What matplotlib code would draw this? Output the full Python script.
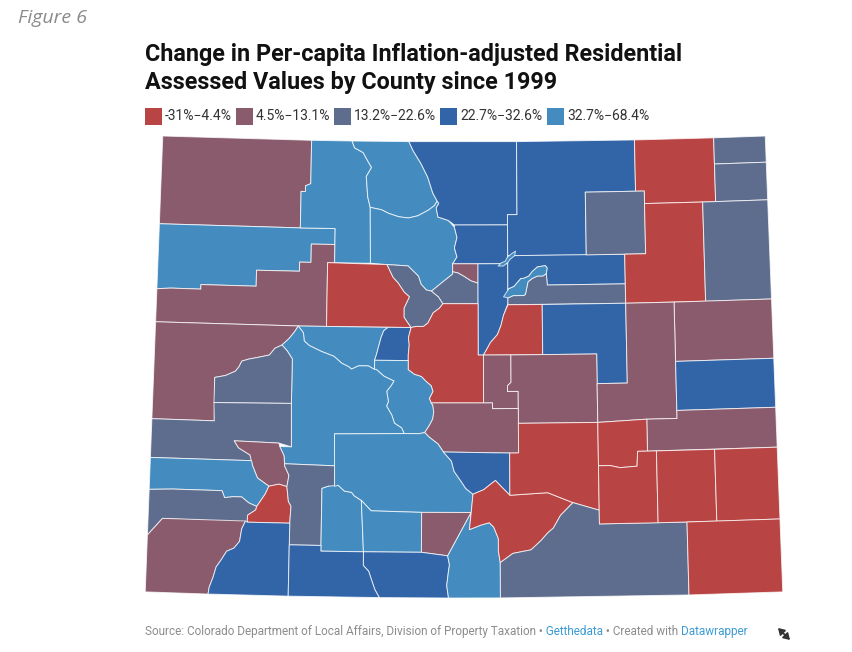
"""
Colorado choropleth: change in per-capita inflation-adjusted residential assessed values by county
since 1999, five classes. County outlines are rough lon/lat traces, drawn through an Albers projection.
"""
import numpy as np
import matplotlib
matplotlib.use("Agg")
import matplotlib.pyplot as plt
from matplotlib.patches import Polygon, Rectangle, FancyArrowPatch
from matplotlib.transforms import Bbox, TransformedBbox

BIN_LABELS = ["-31%\u22124.4%", "4.5%\u221213.1%", "13.2%\u221222.6%", "22.7%\u221232.6%", "32.7%\u221268.4%"]
BIN_COLORS = ["#b94444", "#8a5b6c", "#5e6d8e", "#3265a7", "#448cbf"]

# county outlines, (lon, lat)
MOFFAT = [(-109.05, 41.0), (-107.32, 41.0), (-107.32, 40.62), (-107.38, 40.60), (-107.38, 40.55),
          (-107.43, 40.55), (-107.43, 40.23), (-109.05, 40.23)]
RIO_BLANCO = [(-109.05, 40.23), (-107.43, 40.23), (-107.03, 40.23), (-107.03, 40.09), (-107.30, 40.09),
              (-107.30, 39.93), (-107.43, 39.93), (-107.43, 39.85), (-107.92, 39.85), (-107.92, 39.71),
              (-108.55, 39.71), (-108.55, 39.67), (-108.89, 39.67), (-109.05, 39.66)]
GARFIELD = [(-109.05, 39.66), (-108.89, 39.67), (-108.55, 39.67), (-108.55, 39.71), (-107.92, 39.71),
            (-107.92, 39.85), (-107.43, 39.85), (-107.43, 39.93), (-107.30, 39.93), (-107.30, 40.09),
            (-107.03, 40.09), (-107.03, 39.93), (-107.11, 39.93), (-107.11, 39.37), (-107.43, 39.37),
            (-109.05, 39.37)]
MESA = [(-109.05, 39.37), (-107.43, 39.37), (-107.47, 39.32), (-107.53, 39.26), (-107.61, 39.20),
        (-107.69, 39.17), (-107.75, 39.11), (-107.86, 39.09), (-107.98, 39.07), (-108.06, 39.05),
        (-108.09, 39.0), (-108.13, 38.96), (-108.24, 38.92), (-108.36, 38.90), (-108.35, 38.52),
        (-109.05, 38.52)]
ROUTT = [(-107.32, 41.0), (-106.85, 41.0), (-106.82, 40.94), (-106.72, 40.90), (-106.66, 40.82),
         (-106.62, 40.77), (-106.68, 40.69), (-106.66, 40.51), (-106.63, 40.42), (-106.62, 39.93),
         (-107.03, 39.93), (-107.03, 40.23), (-107.43, 40.23), (-107.43, 40.55), (-107.38, 40.55),
         (-107.38, 40.60), (-107.32, 40.62)]
JACKSON = [(-106.85, 41.0), (-106.19, 41.0), (-106.14, 40.92), (-106.05, 40.81), (-105.97, 40.69),
           (-105.91, 40.55), (-105.86, 40.48), (-105.89, 40.44), (-105.96, 40.40), (-106.08, 40.35),
           (-106.19, 40.33), (-106.30, 40.34), (-106.42, 40.37), (-106.50, 40.40), (-106.63, 40.42),
           (-106.66, 40.51), (-106.68, 40.69), (-106.62, 40.77), (-106.66, 40.82), (-106.72, 40.90),
           (-106.82, 40.94)]
GRAND = [(-106.63, 40.42), (-106.50, 40.40), (-106.42, 40.37), (-106.30, 40.34), (-106.19, 40.33),
         (-106.08, 40.35), (-105.96, 40.40), (-105.89, 40.44), (-105.86, 40.48), (-105.84, 40.46),
         (-105.87, 40.42), (-105.85, 40.34), (-105.73, 40.31), (-105.66, 40.25), (-105.63, 40.16),
         (-105.66, 40.07), (-105.63, 39.99), (-105.68, 39.93), (-105.68, 39.84), (-105.81, 39.76),
         (-105.92, 39.69), (-105.98, 39.70), (-106.04, 39.75), (-106.07, 39.82), (-106.15, 39.88),
         (-106.19, 39.91), (-106.43, 39.92), (-106.62, 39.93)]
EAGLE = [(-107.11, 39.93), (-106.43, 39.92), (-106.36, 39.81), (-106.30, 39.76), (-106.23, 39.68),
         (-106.17, 39.64), (-106.23, 39.54), (-106.23, 39.46), (-106.15, 39.37), (-107.11, 39.37)]
SUMMIT = [(-106.43, 39.92), (-106.19, 39.91), (-106.15, 39.88), (-106.07, 39.82), (-106.04, 39.75),
          (-105.98, 39.70), (-105.92, 39.69), (-105.84, 39.64), (-105.79, 39.58), (-105.83, 39.54),
          (-105.90, 39.50), (-105.96, 39.41), (-106.01, 39.38), (-106.09, 39.38), (-106.15, 39.37),
          (-106.23, 39.46), (-106.23, 39.54), (-106.17, 39.64), (-106.23, 39.68), (-106.30, 39.76),
          (-106.36, 39.81)]
PITKIN = [(-107.43, 39.37), (-106.41, 39.37), (-106.46, 39.34), (-106.49, 39.28), (-106.51, 39.22),
          (-106.54, 39.13), (-106.56, 39.08), (-106.56, 39.0), (-106.63, 39.03), (-106.74, 39.03),
          (-106.82, 39.0), (-106.85, 39.02), (-106.93, 39.05), (-107.02, 39.11), (-107.16, 39.15),
          (-107.30, 39.20), (-107.36, 39.24), (-107.37, 39.31)]
LAKE = [(-106.41, 39.37), (-106.15, 39.37), (-106.18, 39.28), (-106.17, 39.22), (-106.18, 39.13),
        (-106.18, 39.08), (-106.56, 39.08), (-106.54, 39.13), (-106.51, 39.22), (-106.49, 39.28),
        (-106.46, 39.34)]
LARIMER = [(-106.19, 41.0), (-104.94, 41.0), (-104.94, 40.36), (-105.05, 40.36), (-105.05, 40.27),
           (-105.66, 40.27), (-105.73, 40.31), (-105.85, 40.34), (-105.87, 40.42), (-105.84, 40.46),
           (-105.86, 40.48), (-105.91, 40.55), (-105.97, 40.69), (-106.05, 40.81), (-106.14, 40.92)]
BOULDER = [(-105.66, 40.27), (-105.05, 40.27), (-105.05, 39.93), (-105.39, 39.93), (-105.68, 39.93),
           (-105.63, 39.99), (-105.66, 40.07), (-105.63, 40.16), (-105.66, 40.25)]
GILPIN = [(-105.68, 39.93), (-105.39, 39.93), (-105.39, 39.76), (-105.47, 39.78), (-105.55, 39.82),
          (-105.62, 39.85), (-105.68, 39.86)]
CLEAR_CREEK = [(-105.68, 39.86), (-105.62, 39.85), (-105.55, 39.82), (-105.47, 39.78), (-105.39, 39.76),
               (-105.39, 39.58), (-105.79, 39.58), (-105.84, 39.64), (-105.92, 39.69), (-105.81, 39.76),
               (-105.68, 39.84)]
JEFFERSON = [(-105.39, 39.93), (-105.05, 39.93), (-105.05, 39.58), (-105.10, 39.48), (-105.13, 39.39),
             (-105.17, 39.31), (-105.25, 39.24), (-105.30, 39.17), (-105.33, 39.13), (-105.39, 39.13)]
WELD = [(-104.94, 41.0), (-103.57, 41.0), (-103.57, 40.55), (-104.15, 40.55), (-104.15, 40.0),
        (-105.05, 40.0), (-105.05, 40.36), (-104.94, 40.36)]
ADAMS = [(-105.05, 40.0), (-103.71, 40.0), (-103.71, 39.74), (-104.60, 39.74), (-104.61, 39.84),
         (-104.60, 39.89), (-104.62, 39.91), (-104.71, 39.90), (-104.77, 39.86), (-104.81, 39.82),
         (-104.87, 39.80), (-104.90, 39.80), (-104.98, 39.73), (-105.04, 39.71), (-105.05, 39.70)]
ARAPAHOE = [(-104.60, 39.74), (-103.71, 39.74), (-103.71, 39.57), (-105.05, 39.57), (-105.05, 39.63),
            (-104.99, 39.65), (-104.87, 39.65), (-104.85, 39.66), (-104.82, 39.77), (-104.77, 39.80),
            (-104.71, 39.82), (-104.65, 39.82), (-104.61, 39.84)]
DOUGLAS = [(-105.05, 39.57), (-104.66, 39.57), (-104.66, 39.13), (-105.33, 39.13), (-105.30, 39.17),
           (-105.25, 39.24), (-105.17, 39.31), (-105.13, 39.39), (-105.10, 39.48)]
ELBERT = [(-104.66, 39.57), (-103.71, 39.57), (-103.71, 38.87), (-104.05, 38.87), (-104.05, 39.13),
          (-104.66, 39.13)]
PARK = [(-106.15, 39.37), (-106.09, 39.38), (-106.01, 39.38), (-105.96, 39.41), (-105.90, 39.50),
        (-105.83, 39.54), (-105.79, 39.58), (-105.39, 39.58), (-105.39, 39.13), (-105.33, 39.13),
        (-105.33, 38.71), (-105.92, 38.71), (-105.94, 38.75), (-105.90, 38.81), (-105.92, 38.86),
        (-105.98, 38.90), (-106.03, 38.94), (-106.11, 38.96), (-106.18, 39.0), (-106.18, 39.08),
        (-106.18, 39.13), (-106.17, 39.22), (-106.18, 39.28)]
TELLER = [(-105.33, 39.13), (-105.02, 39.13), (-105.02, 38.89), (-105.06, 38.86), (-105.06, 38.81),
          (-104.94, 38.81), (-104.94, 38.66), (-105.23, 38.66), (-105.23, 38.71), (-105.33, 38.71)]
EL_PASO = [(-105.02, 39.13), (-104.05, 39.13), (-104.05, 38.53), (-104.94, 38.53), (-104.94, 38.81),
           (-105.06, 38.81), (-105.06, 38.86), (-105.02, 38.89)]
CHAFFEE = [(-106.56, 39.08), (-106.18, 39.08), (-106.18, 39.0), (-106.11, 38.96), (-106.03, 38.94),
           (-105.98, 38.90), (-105.92, 38.86), (-105.90, 38.81), (-105.94, 38.75), (-105.92, 38.71),
           (-105.90, 38.69), (-105.89, 38.63), (-105.90, 38.57), (-105.94, 38.51), (-105.99, 38.45),
           (-106.05, 38.44), (-106.22, 38.44), (-106.25, 38.49), (-106.33, 38.53), (-106.36, 38.60),
           (-106.42, 38.68), (-106.40, 38.72), (-106.42, 38.81), (-106.37, 38.86), (-106.34, 38.90),
           (-106.45, 38.94), (-106.54, 39.0), (-106.56, 39.0)]
FREMONT = [(-105.92, 38.71), (-105.33, 38.71), (-105.23, 38.71), (-105.23, 38.66), (-104.94, 38.66),
           (-104.94, 38.53), (-104.94, 38.27), (-105.04, 38.27), (-105.78, 38.28), (-105.84, 38.35),
           (-105.94, 38.41), (-105.99, 38.45), (-105.94, 38.51), (-105.90, 38.57), (-105.89, 38.63),
           (-105.90, 38.69)]
GUNNISON = [(-107.43, 39.37), (-107.37, 39.31), (-107.36, 39.24), (-107.30, 39.20), (-107.16, 39.15),
            (-107.02, 39.11), (-106.93, 39.05), (-106.85, 39.02), (-106.82, 39.0), (-106.74, 39.03),
            (-106.63, 39.03), (-106.56, 39.0), (-106.54, 39.0), (-106.45, 38.94), (-106.34, 38.90),
            (-106.37, 38.86), (-106.42, 38.81), (-106.40, 38.72), (-106.42, 38.68), (-106.36, 38.60),
            (-106.33, 38.53), (-106.25, 38.49), (-106.22, 38.44), (-107.0, 38.43), (-106.99, 38.15),
            (-107.55, 38.16), (-107.56, 38.23), (-107.61, 38.31), (-107.48, 38.31), (-107.49, 38.69),
            (-107.49, 39.08), (-107.55, 39.15), (-107.61, 39.20), (-107.53, 39.26), (-107.47, 39.32)]
DELTA = [(-108.09, 39.0), (-108.06, 39.05), (-107.98, 39.07), (-107.86, 39.09), (-107.75, 39.11),
         (-107.69, 39.17), (-107.61, 39.20), (-107.55, 39.15), (-107.49, 39.08), (-107.49, 38.69),
         (-108.36, 38.68), (-108.36, 38.90), (-108.24, 38.92), (-108.13, 38.96)]
MONTROSE = [(-109.05, 38.52), (-108.35, 38.52), (-108.36, 38.68), (-107.49, 38.69), (-107.48, 38.31),
            (-107.62, 38.34), (-108.12, 38.35), (-108.07, 38.29), (-107.94, 38.23), (-107.92, 38.18),
            (-109.05, 38.18)]
OURAY = [(-108.12, 38.35), (-107.62, 38.34), (-107.61, 38.31), (-107.56, 38.23), (-107.55, 38.14),
         (-107.50, 38.06), (-107.52, 37.96), (-107.61, 37.98), (-107.72, 37.96), (-107.85, 38.03),
         (-107.91, 38.14), (-107.94, 38.23), (-108.07, 38.29)]
SAN_MIGUEL = [(-109.05, 38.18), (-107.92, 38.18), (-107.91, 38.14), (-107.85, 38.03), (-107.72, 37.96),
              (-107.76, 37.89), (-107.85, 37.78), (-107.94, 37.81), (-108.02, 37.86), (-108.11, 37.86),
              (-108.21, 37.85), (-108.24, 37.91), (-108.79, 37.91), (-109.05, 37.90)]
DOLORES = [(-109.05, 37.90), (-108.79, 37.91), (-108.24, 37.91), (-108.21, 37.85), (-108.11, 37.86),
           (-108.02, 37.86), (-107.94, 37.81), (-107.85, 37.78), (-107.86, 37.75), (-107.95, 37.70),
           (-107.95, 37.64), (-108.89, 37.65), (-109.05, 37.50)]
SAN_JUAN = [(-107.76, 37.89), (-107.72, 37.96), (-107.61, 37.98), (-107.52, 37.96), (-107.50, 37.83),
            (-107.47, 37.79), (-107.48, 37.64), (-107.95, 37.64), (-107.95, 37.70), (-107.86, 37.75),
            (-107.85, 37.78)]
HINSDALE = [(-107.55, 38.16), (-106.99, 38.15), (-106.99, 37.97), (-107.06, 37.97), (-107.13, 37.95),
            (-107.13, 37.45), (-107.48, 37.45), (-107.48, 37.64), (-107.47, 37.79), (-107.50, 37.83),
            (-107.52, 37.96), (-107.50, 38.06), (-107.55, 38.14)]
MINERAL = [(-107.13, 37.95), (-107.06, 37.97), (-106.95, 37.98), (-106.88, 37.93), (-106.80, 37.92),
           (-106.77, 37.89), (-106.69, 37.85), (-106.66, 37.40), (-107.13, 37.40)]
SAGUACHE = [(-107.0, 38.43), (-106.22, 38.44), (-106.05, 38.44), (-105.99, 38.45), (-105.94, 38.41),
            (-105.84, 38.35), (-105.78, 38.28), (-105.69, 38.20), (-105.66, 38.11), (-105.58, 38.02),
            (-105.53, 37.96), (-105.45, 37.91), (-105.47, 37.75), (-106.02, 37.75), (-106.58, 37.76),
            (-106.69, 37.85), (-106.77, 37.89), (-106.80, 37.92), (-106.88, 37.93), (-106.95, 37.98),
            (-106.99, 37.97)]
RIO_GRANDE = [(-106.69, 37.85), (-106.58, 37.76), (-106.02, 37.75), (-106.02, 37.40), (-106.66, 37.40)]
ALAMOSA = [(-106.02, 37.75), (-105.47, 37.75), (-105.73, 37.37), (-106.02, 37.40)]
CONEJOS = [(-106.66, 37.40), (-106.02, 37.40), (-105.73, 37.37), (-105.71, 37.29), (-105.72, 37.24),
           (-105.74, 37.11), (-105.72, 37.0), (-106.48, 37.0), (-106.53, 37.07), (-106.57, 37.16),
           (-106.60, 37.23), (-106.66, 37.28)]
COSTILLA = [(-105.73, 37.37), (-105.47, 37.75), (-105.49, 37.60), (-105.36, 37.64), (-105.27, 37.66),
            (-105.22, 37.62), (-105.17, 37.52), (-105.17, 37.41), (-105.15, 37.31), (-105.15, 37.0),
            (-105.72, 37.0), (-105.74, 37.11), (-105.72, 37.24), (-105.71, 37.29)]
CUSTER = [(-105.78, 38.28), (-105.04, 38.27), (-105.04, 37.90), (-105.14, 37.98), (-105.20, 38.03),
          (-105.25, 38.0), (-105.33, 37.95), (-105.45, 37.91), (-105.53, 37.96), (-105.58, 38.02),
          (-105.66, 38.11), (-105.69, 38.20)]
HUERFANO = [(-105.45, 37.91), (-105.33, 37.95), (-105.25, 38.0), (-105.20, 38.03), (-105.14, 37.98),
            (-105.04, 37.90), (-104.62, 37.92), (-104.34, 37.83), (-104.48, 37.72), (-104.56, 37.61),
            (-104.62, 37.57), (-104.70, 37.50), (-104.81, 37.42), (-105.01, 37.39), (-105.15, 37.31),
            (-105.17, 37.41), (-105.17, 37.52), (-105.22, 37.62), (-105.27, 37.66), (-105.36, 37.64),
            (-105.49, 37.60), (-105.47, 37.75)]
PUEBLO = [(-104.94, 38.53), (-104.05, 38.53), (-104.05, 37.76), (-104.34, 37.83), (-104.62, 37.92),
          (-105.04, 37.90), (-105.04, 38.27), (-104.94, 38.27)]
LAS_ANIMAS = [(-105.15, 37.0), (-105.15, 37.31), (-105.01, 37.39), (-104.81, 37.42), (-104.70, 37.50),
              (-104.62, 37.57), (-104.56, 37.61), (-104.48, 37.72), (-104.34, 37.83), (-104.05, 37.76),
              (-104.05, 37.64), (-103.08, 37.64), (-103.08, 37.0)]
MONTEZUMA = [(-109.05, 37.50), (-108.89, 37.65), (-107.97, 37.65), (-108.01, 37.58), (-108.03, 37.47),
             (-108.09, 37.41), (-108.17, 37.38), (-108.23, 37.30), (-108.28, 37.24), (-108.31, 37.15),
             (-108.35, 37.06), (-108.36, 37.0), (-109.05, 37.0)]
LA_PLATA = [(-107.97, 37.65), (-107.95, 37.64), (-107.48, 37.64), (-107.48, 37.45), (-107.48, 37.0),
            (-108.36, 37.0), (-108.35, 37.06), (-108.31, 37.15), (-108.28, 37.24), (-108.23, 37.30),
            (-108.17, 37.38), (-108.09, 37.41), (-108.03, 37.47), (-108.01, 37.58)]
ARCHULETA = [(-107.48, 37.45), (-107.13, 37.45), (-107.13, 37.40), (-106.66, 37.40), (-106.66, 37.28),
             (-106.60, 37.23), (-106.57, 37.16), (-106.53, 37.07), (-106.48, 37.0), (-107.48, 37.0)]
LOGAN = [(-103.57, 41.0), (-102.65, 41.0), (-102.65, 40.44), (-103.47, 40.44), (-103.47, 40.55),
         (-103.57, 40.55)]
SEDGWICK = [(-102.65, 41.0), (-102.05, 41.0), (-102.05, 40.77), (-102.65, 40.77)]
PHILLIPS = [(-102.65, 40.77), (-102.05, 40.77), (-102.05, 40.44), (-102.65, 40.44)]
MORGAN = [(-104.15, 40.55), (-103.47, 40.55), (-103.47, 40.0), (-104.15, 40.0)]
WASHINGTON = [(-103.47, 40.44), (-102.80, 40.44), (-102.80, 39.57), (-103.71, 39.57), (-103.71, 40.0),
              (-103.47, 40.0)]
YUMA = [(-102.80, 40.44), (-102.05, 40.44), (-102.05, 39.57), (-102.80, 39.57)]
KIT_CARSON = [(-103.16, 39.57), (-102.05, 39.57), (-102.05, 39.05), (-103.16, 39.05)]
LINCOLN = [(-103.71, 39.57), (-103.16, 39.57), (-103.16, 38.55), (-103.50, 38.55), (-104.05, 38.53),
           (-104.05, 38.87), (-103.71, 38.87)]
CHEYENNE = [(-103.16, 39.05), (-102.05, 39.05), (-102.05, 38.62), (-103.16, 38.62)]
KIOWA = [(-103.50, 38.55), (-103.16, 38.55), (-103.16, 38.62), (-102.05, 38.62), (-102.05, 38.27),
         (-103.50, 38.27)]
CROWLEY = [(-104.05, 38.53), (-103.50, 38.55), (-103.50, 38.27), (-103.61, 38.27), (-103.62, 38.14),
           (-103.81, 38.13), (-103.92, 38.15), (-104.05, 38.15)]
OTERO = [(-104.05, 38.15), (-103.92, 38.15), (-103.81, 38.13), (-103.62, 38.14), (-103.61, 38.27),
         (-103.40, 38.27), (-103.40, 37.64), (-104.05, 37.64), (-104.05, 37.76)]
BENT = [(-103.40, 38.27), (-102.75, 38.27), (-102.75, 37.64), (-103.40, 37.64)]
PROWERS = [(-102.75, 38.27), (-102.05, 38.27), (-102.05, 37.64), (-102.75, 37.64)]
BACA = [(-103.08, 37.64), (-102.05, 37.64), (-102.05, 37.0), (-103.08, 37.0)]
DENVER = [(-105.10, 39.64), (-105.04, 39.71), (-104.98, 39.73), (-104.90, 39.80), (-104.87, 39.80),
          (-104.81, 39.82), (-104.77, 39.86), (-104.71, 39.90), (-104.62, 39.91), (-104.60, 39.89),
          (-104.61, 39.84), (-104.65, 39.82), (-104.71, 39.82), (-104.77, 39.80), (-104.82, 39.77),
          (-104.85, 39.66), (-104.87, 39.65), (-104.99, 39.65), (-105.05, 39.63)]
BROOMFIELD = [(-105.16, 39.91), (-105.12, 39.94), (-105.08, 39.95), (-105.05, 39.99), (-105.00, 40.02),
              (-104.96, 40.04), (-104.97, 40.00), (-105.02, 39.97), (-105.05, 39.94), (-105.10, 39.91)]

COUNTY_NAMES = ["Moffat", "Rio Blanco", "Garfield", "Mesa", "Routt", "Jackson", "Grand", "Eagle",
                "Summit", "Pitkin", "Lake", "Larimer", "Boulder", "Gilpin", "Clear Creek", "Jefferson",
                "Weld", "Adams", "Arapahoe", "Douglas", "Elbert", "Park", "Teller", "El Paso", "Chaffee",
                "Fremont", "Gunnison", "Delta", "Montrose", "Ouray", "San Miguel", "Dolores", "San Juan",
                "Hinsdale", "Mineral", "Saguache", "Rio Grande", "Alamosa", "Conejos", "Costilla",
                "Custer", "Huerfano", "Pueblo", "Las Animas", "Montezuma", "La Plata", "Archuleta",
                "Logan", "Sedgwick", "Phillips", "Morgan", "Washington", "Yuma", "Kit Carson", "Lincoln",
                "Cheyenne", "Kiowa", "Crowley", "Otero", "Bent", "Prowers", "Baca", "Denver", "Broomfield"]
# class index into BIN_LABELS, same order as COUNTY_NAMES
COUNTY_BIN = [1, 4, 1, 1, 4, 4, 4, 0,
              2, 4, 3, 3, 3, 1, 2, 3,
              3, 3, 2, 0, 3, 0, 1, 1, 4,
              1, 4, 2, 2, 1, 4, 2, 0,
              2, 4, 4, 4, 1, 3, 4,
              3, 0, 0, 2, 1, 3, 3,
              0, 2, 2, 2, 0, 2, 1, 1,
              3, 1, 0, 0, 0, 0, 0, 4, 4]
COUNTY_OUTLINES = [MOFFAT, RIO_BLANCO, GARFIELD, MESA, ROUTT, JACKSON, GRAND, EAGLE,
                   SUMMIT, PITKIN, LAKE, LARIMER, BOULDER, GILPIN, CLEAR_CREEK, JEFFERSON,
                   WELD, ADAMS, ARAPAHOE, DOUGLAS, ELBERT, PARK, TELLER, EL_PASO, CHAFFEE,
                   FREMONT, GUNNISON, DELTA, MONTROSE, OURAY, SAN_MIGUEL, DOLORES, SAN_JUAN,
                   HINSDALE, MINERAL, SAGUACHE, RIO_GRANDE, ALAMOSA, CONEJOS, COSTILLA,
                   CUSTER, HUERFANO, PUEBLO, LAS_ANIMAS, MONTEZUMA, LA_PLATA, ARCHULETA,
                   LOGAN, SEDGWICK, PHILLIPS, MORGAN, WASHINGTON, YUMA, KIT_CARSON, LINCOLN,
                   CHEYENNE, KIOWA, CROWLEY, OTERO, BENT, PROWERS, BACA, DENVER, BROOMFIELD]

TITLE_LINES = ["Change in Per-capita Inflation-adjusted Residential",
               "Assessed Values by County since 1999"]
SOURCE_PARTS = [("Source: Colorado Department of Local Affairs, Division of Property Taxation \u2022 ", "#8c8c8c"),
                ("Getthedata", "#3d9bd4"), (" \u2022 Created with ", "#8c8c8c"), ("Datawrapper", "#3d9bd4")]


def albers(pts, lon0=-105.55, lat0=39.0, sp1=37.5, sp2=40.5):
    a = np.radians(np.asarray(pts, float))
    lam, phi = a[:, 0], a[:, 1]
    p1, p2 = np.radians(sp1), np.radians(sp2)
    n = (np.sin(p1) + np.sin(p2)) / 2
    c = np.cos(p1) ** 2 + 2 * n * np.sin(p1)
    rho0 = np.sqrt(c - 2 * n * np.sin(np.radians(lat0))) / n
    rho = np.sqrt(c - 2 * n * np.sin(phi)) / n
    th = n * (lam - np.radians(lon0))
    return np.column_stack([rho * np.sin(th), rho0 - rho * np.cos(th)])


W, H = 852, 652


def px(x, y):
    return x / W, 1 - y / H


def main():
    fig = plt.figure(figsize=(W / 100, H / 100), dpi=100)
    fig.patch.set_facecolor("white")
    sans = ["Roboto", "DejaVu Sans"]

    fig.text(*px(18, 18), "Figure 6", fontsize=14, style="italic", color="#8a8a8a",
             family=["Open Sans", "DejaVu Sans"], va="center", ha="left")
    fig.text(*px(145, 55), TITLE_LINES[0], fontsize=16.8, weight="bold", color="#111",
             family=sans, va="center", ha="left")
    fig.text(*px(145, 82), TITLE_LINES[1], fontsize=16.8, weight="bold", color="#111",
             family=sans, va="center", ha="left")

    # legend row
    leg_x = [145, 236, 334, 440, 547]
    for x0, lab, col in zip(leg_x, BIN_LABELS, BIN_COLORS):
        fig.patches.append(Rectangle(px(x0, 125), 17 / W, 17 / H, transform=fig.transFigure,
                                     facecolor=col, edgecolor="none"))
        fig.text(*px(x0 + 20, 116.5), lab, fontsize=10, color="#333", family=sans, va="center", ha="left")

    ax = fig.add_axes([145 / W, (H - 598) / H, (783 - 145) / W, (598 - 136) / H])
    for outline, b in zip(COUNTY_OUTLINES, COUNTY_BIN):
        xy = albers(outline)
        ax.add_patch(Polygon(xy, closed=True, facecolor=BIN_COLORS[b], edgecolor=(1, 1, 1, 0.75),
                             lw=0.7, joinstyle="round"))
    allxy = np.vstack([albers(o) for o in COUNTY_OUTLINES])
    ax.set_xlim(allxy[:, 0].min(), allxy[:, 0].max())
    ax.set_ylim(allxy[:, 1].min(), allxy[:, 1].max())
    ax.set_aspect("equal")
    ax.axis("off")

    # footer: the whole line drawn once per colour, each copy clipped to its own words
    r = fig.canvas.get_renderer()
    fs = 8.5
    full = "".join(t for t, _ in SOURCE_PARTS)

    def width(s):
        probe = fig.text(0, 0, s + "|", fontsize=fs, family=sans)
        bar = fig.text(0, 0, "|", fontsize=fs, family=sans)
        w = probe.get_window_extent(r).width - bar.get_window_extent(r).width
        probe.remove(); bar.remove()
        return w

    cuts = [0.0]
    prefix = ""
    for txt, _ in SOURCE_PARTS[:-1]:
        prefix += txt
        # cut in the middle of the space that ends/starts each piece
        a = width(prefix.rstrip()) if prefix.endswith(" ") else width(prefix)
        cuts.append((a + width(prefix)) / 2 if prefix.endswith(" ") else width(prefix) - 1.5)
    cuts.append(2000.0)
    for (txt, col), c0, c1 in zip(SOURCE_PARTS, cuts[:-1], cuts[1:]):
        t = fig.text(145 / W, 1 - 632 / H, full, fontsize=fs, color=col, family=sans,
                     va="center", ha="left")
        box = Bbox.from_extents((145 + c0 - (2 if c0 == 0 else 0)) / W, 1 - 645 / H,
                                (145 + c1) / W, 1 - 620 / H)
        t.set_clip_box(TransformedBbox(box, fig.transFigure))
        t.set_clip_on(True)

    fig.patches.append(FancyArrowPatch(px(778, 628), px(790, 640), transform=fig.transFigure,
                                       arrowstyle="<|-|>,head_length=0.4,head_width=0.25",
                                       mutation_scale=9, lw=1.3, color="#333",
                                       shrinkA=0, shrinkB=0))

    fig.savefig("out.png", dpi=100, facecolor="white")


if __name__ == "__main__":
    main()
